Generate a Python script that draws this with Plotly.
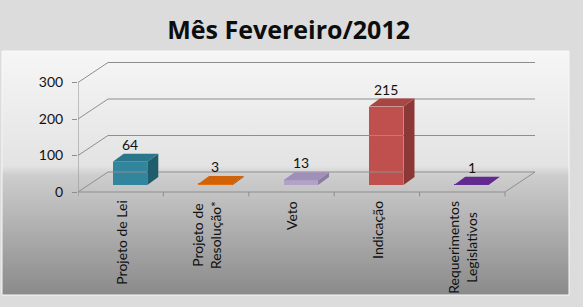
import base64
import plotly.graph_objects as go

# ---------------- data ----------------
categories = ["Projeto de Lei", "Projeto de<br>Resolução*", "Veto", "Indicação",
              "Requerimentos<br>Legislativos"]
values = [64, 3, 13, 215, 1]
front_colors = ["#31859C", "#E46C0A", "#B3A2C7", "#C0504D", "#7030A0"]
side_colors = ["#1F5C6C", "#A04C07", "#8C7BA3", "#8C3836", "#4E2170"]
top_colors = ["#2A768B", "#D0620A", "#A08FB8", "#A94542", "#622A8E"]
y_ticks = [0, 100, 200, 300]
title_text = "Mês Fevereiro/2012"

# ---------------- geometry (pseudo-3D offsets, data units) ----------------
W, H = 583, 307
PX_X = 85.4          # px per category
PX_Y = 0.365         # px per value unit
DX_BACK = 30 / PX_X
DY_BACK = 20 / PX_Y
BAR_XOFF = 9.3 / PX_X
BAR_BASE = 7 / PX_Y
BAR_W = 0.405
BAR_DX = 11 / PX_X
BAR_DY = 8 / PX_Y

x0_px, x1_px = 78, 548
y_bot_px, y_top_px = 300, 52
y0_px = 192
x_range = [-0.5, (x1_px - x0_px) / PX_X - 0.5]
y_range = [(y0_px - y_bot_px) / PX_Y, (y0_px - y_top_px) / PX_Y]

n = len(categories)
fig = go.Figure()

line_style = dict(color="#8e8e8e", width=1)

def seg(xs, ys, style=line_style):
    fig.add_trace(go.Scatter(x=xs, y=ys, mode="lines", line=style,
                             hoverinfo="skip", showlegend=False))

# left wall: front vertical axis + diagonals to back wall
seg([-0.5, -0.5], [y_ticks[0], y_ticks[-1]])
for t in y_ticks:
    seg([-0.5, -0.5 + DX_BACK], [t, t + DY_BACK])
    seg([-0.5 + DX_BACK, n - 0.5 + DX_BACK], [t + DY_BACK, t + DY_BACK])
# floor front edge and right diagonal
seg([-0.5, n - 0.5], [0, 0])
seg([n - 0.5, n - 0.5 + DX_BACK], [0, DY_BACK])
# category boundary ticks
for k in range(n + 1):
    seg([k - 0.5, k - 0.5], [0, -12])

# bars: front face
fig.add_trace(go.Bar(
    x=[i + BAR_XOFF for i in range(n)], y=values, base=[BAR_BASE] * n,
    width=BAR_W, marker=dict(color=front_colors, line=dict(width=0)),
    hoverinfo="skip", showlegend=False))

# side and top faces
for i, v in enumerate(values):
    xl = i + BAR_XOFF - BAR_W / 2
    xr = i + BAR_XOFF + BAR_W / 2
    b = BAR_BASE
    fig.add_trace(go.Scatter(
        x=[xr, xr + BAR_DX, xr + BAR_DX, xr, xr],
        y=[b, b + BAR_DY, b + v + BAR_DY, b + v, b],
        fill="toself", fillcolor=side_colors[i], mode="lines",
        line=dict(width=0, color=side_colors[i]), hoverinfo="skip", showlegend=False))
    fig.add_trace(go.Scatter(
        x=[xl, xr, xr + BAR_DX, xl + BAR_DX, xl],
        y=[b + v, b + v, b + v + BAR_DY, b + v + BAR_DY, b + v],
        fill="toself", fillcolor=top_colors[i], mode="lines",
        line=dict(width=0, color=top_colors[i]), hoverinfo="skip", showlegend=False))

# data labels
for i, v in enumerate(values):
    fig.add_annotation(x=i + BAR_XOFF, y=BAR_BASE + v, text=str(v), showarrow=False,
                       xanchor="center", yanchor="bottom", yshift=7,
                       font=dict(family="Lato", size=14, color="#111111"))

# category labels (rotated)
for i, c in enumerate(categories):
    fig.add_annotation(x=i, y=0, text=c, showarrow=False, textangle=-90,
                       xanchor="center", yanchor="top", yshift=-7, align="center",
                       font=dict(family="Lato", size=14, color="#111111"))

# panel gradient background
pw, ph = 567, 244
svg = f'''<svg xmlns="http://www.w3.org/2000/svg" width="{pw}" height="{ph}">
<defs><linearGradient id="g" x1="0" y1="0" x2="0" y2="1">
<stop offset="0" stop-color="#f6f6f6"/>
<stop offset="0.47" stop-color="#e3e3e3"/>
<stop offset="0.51" stop-color="#cdcdcd"/>
<stop offset="1" stop-color="#8a8a8a"/>
</linearGradient></defs>
<rect width="{pw}" height="{ph}" fill="url(#g)"/></svg>'''
src = "data:image/svg+xml;base64," + base64.b64encode(svg.encode()).decode()
fig.add_layout_image(dict(source=src, xref="paper", yref="paper",
                          x=2 / W, y=1 - 51 / H, sizex=pw / W, sizey=ph / H,
                          xanchor="left", yanchor="top", sizing="stretch", layer="below"))
fig.add_shape(type="rect", xref="paper", yref="paper",
              x0=2 / W, x1=(2 + pw) / W, y0=1 - (51 + ph) / H, y1=1 - 51 / H,
              line=dict(color="#f8f8f8", width=1), layer="below")

fig.update_layout(
    width=W, height=H, margin=dict(l=0, r=0, t=0, b=0),
    paper_bgcolor="#dcdcdc", plot_bgcolor="rgba(0,0,0,0)",
    title=dict(text=f"<b>{title_text}</b>", x=0.495, xanchor="center", y=1 - 30 / H,
               yanchor="middle", font=dict(family="Open Sans", size=25, color="#0d0d0d")),
    xaxis=dict(domain=[x0_px / W, x1_px / W], range=x_range, visible=False, fixedrange=True),
    yaxis=dict(domain=[1 - y_bot_px / H, 1 - y_top_px / H], range=y_range,
               tickvals=y_ticks, showgrid=False, zeroline=False, showline=False,
               ticks="outside", ticklen=5, tickcolor="#8e8e8e", ticklabelstandoff=6,
               tickfont=dict(family="Lato", size=14, color="#111111")),
    bargap=0, showlegend=False,
)

fig.write_html("out.html")
